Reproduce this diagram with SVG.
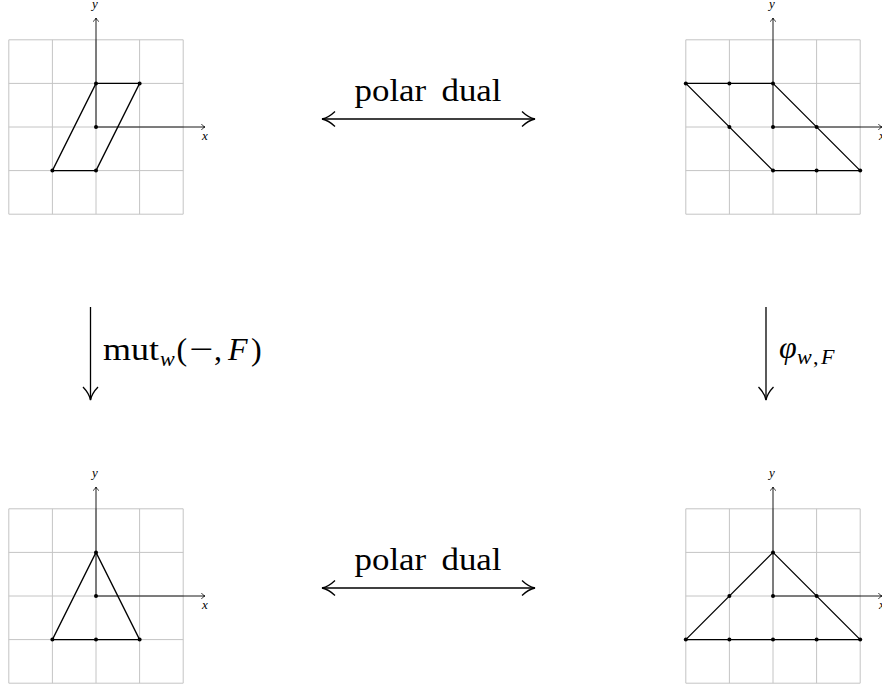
<svg xmlns="http://www.w3.org/2000/svg" width="882" height="689" viewBox="0 0 882 689">
<style>
.grid line{stroke:#c4c4c4;stroke-width:1}
.axis{stroke:#000;stroke-width:0.9;fill:none}
.poly{stroke:#000;stroke-width:1.3;fill:none;stroke-linejoin:round}
.dot{fill:#000}
.lbl{font-family:"Liberation Serif",serif;font-style:italic;font-size:13px;fill:#000}
.conn{stroke:#000;stroke-width:1.3;fill:none}
.txt{font-family:"Liberation Serif",serif;font-size:32px;fill:#000}
.it{font-style:italic}
</style>
<defs>
<marker id="ax" viewBox="-5 -4 6 8" refX="0" refY="0" markerWidth="6" markerHeight="8" markerUnits="userSpaceOnUse" orient="auto">
<path d="M-3.5,-2.8 C-2,-1 -0.8,-0.3 0,0 C-0.8,0.3 -2,1 -3.5,2.8" fill="none" stroke="#000" stroke-width="0.9"/>
</marker>
<marker id="to" viewBox="-15 -10 17 20" refX="0" refY="0" markerWidth="17" markerHeight="20" markerUnits="userSpaceOnUse" orient="auto-start-reverse">
<path d="M-13,-7.5 C-8,-2.7 -3.5,-0.7 0,0 C-3.5,0.7 -8,2.7 -13,7.5" fill="none" stroke="#000" stroke-width="1.3"/>
</marker>
<g id="grid" class="grid">
<line x1="-87.2" y1="-87.2" x2="-87.2" y2="87.2"/>
<line x1="-43.6" y1="-87.2" x2="-43.6" y2="87.2"/>
<line x1="0" y1="-87.2" x2="0" y2="87.2"/>
<line x1="43.6" y1="-87.2" x2="43.6" y2="87.2"/>
<line x1="87.2" y1="-87.2" x2="87.2" y2="87.2"/>
<line x1="-87.2" y1="-87.2" x2="87.2" y2="-87.2"/>
<line x1="-87.2" y1="-43.6" x2="87.2" y2="-43.6"/>
<line x1="-87.2" y1="0" x2="87.2" y2="0"/>
<line x1="-87.2" y1="43.6" x2="87.2" y2="43.6"/>
<line x1="-87.2" y1="87.2" x2="87.2" y2="87.2"/>
</g>
<g id="axes">
<path class="axis" d="M0,0 V-109" marker-end="url(#ax)"/>
<path class="axis" d="M0,0 H109" marker-end="url(#ax)"/>
<text class="lbl" x="-1" y="-119" text-anchor="middle">y</text>
<text class="lbl" x="109" y="13" text-anchor="middle">x</text>
</g>
</defs>

<g id="plot-top-left" transform="translate(96,127)">
<use href="#grid"/>
<use href="#axes"/>
<polygon class="poly" points="0,-43.6 43.6,-43.6 0,43.6 -43.6,43.6"/>
<circle class="dot" cx="0" cy="-43.6" r="2"/>
<circle class="dot" cx="43.6" cy="-43.6" r="2"/>
<circle class="dot" cx="0" cy="0" r="2"/>
<circle class="dot" cx="0" cy="43.6" r="2"/>
<circle class="dot" cx="-43.6" cy="43.6" r="2"/>
</g>

<g id="plot-top-right" transform="translate(773,127)">
<use href="#grid"/>
<use href="#axes"/>
<polygon class="poly" points="-87.2,-43.6 0,-43.6 87.2,43.6 0,43.6"/>
<circle class="dot" cx="-87.2" cy="-43.6" r="2"/>
<circle class="dot" cx="-43.6" cy="-43.6" r="2"/>
<circle class="dot" cx="0" cy="-43.6" r="2"/>
<circle class="dot" cx="-43.6" cy="0" r="2"/>
<circle class="dot" cx="0" cy="0" r="2"/>
<circle class="dot" cx="43.6" cy="0" r="2"/>
<circle class="dot" cx="0" cy="43.6" r="2"/>
<circle class="dot" cx="43.6" cy="43.6" r="2"/>
<circle class="dot" cx="87.2" cy="43.6" r="2"/>
</g>

<g id="plot-bottom-left" transform="translate(96,596)">
<use href="#grid"/>
<use href="#axes"/>
<polygon class="poly" points="0,-43.6 43.6,43.6 -43.6,43.6"/>
<circle class="dot" cx="0" cy="-43.6" r="2"/>
<circle class="dot" cx="0" cy="0" r="2"/>
<circle class="dot" cx="-43.6" cy="43.6" r="2"/>
<circle class="dot" cx="0" cy="43.6" r="2"/>
<circle class="dot" cx="43.6" cy="43.6" r="2"/>
</g>

<g id="plot-bottom-right" transform="translate(773,596)">
<use href="#grid"/>
<use href="#axes"/>
<polygon class="poly" points="0,-43.6 87.2,43.6 -87.2,43.6"/>
<circle class="dot" cx="0" cy="-43.6" r="2"/>
<circle class="dot" cx="-43.6" cy="0" r="2"/>
<circle class="dot" cx="0" cy="0" r="2"/>
<circle class="dot" cx="43.6" cy="0" r="2"/>
<circle class="dot" cx="-87.2" cy="43.6" r="2"/>
<circle class="dot" cx="-43.6" cy="43.6" r="2"/>
<circle class="dot" cx="0" cy="43.6" r="2"/>
<circle class="dot" cx="43.6" cy="43.6" r="2"/>
<circle class="dot" cx="87.2" cy="43.6" r="2"/>
</g>

<g id="connectors">
<path class="conn" d="M322,119 H535" marker-start="url(#to)" marker-end="url(#to)"/>
<path class="conn" d="M322,588 H535" marker-start="url(#to)" marker-end="url(#to)"/>
<path class="conn" d="M90.5,307 V400" marker-end="url(#to)"/>
<path class="conn" d="M766,307 V400" marker-end="url(#to)"/>
<text class="txt" x="428" y="101" text-anchor="middle" word-spacing="6" textLength="147" lengthAdjust="spacingAndGlyphs">polar dual</text>
<text class="txt" x="428" y="570" text-anchor="middle" word-spacing="6" textLength="147" lengthAdjust="spacingAndGlyphs">polar dual</text>
<text class="txt" y="360"><tspan x="103" textLength="56" lengthAdjust="spacingAndGlyphs">mut</tspan><tspan x="160" dy="6" class="it" font-size="22">w</tspan><tspan x="176.5" dy="-6">(</tspan><tspan x="189" textLength="24" lengthAdjust="spacingAndGlyphs">−</tspan><tspan x="214">,</tspan><tspan x="228" class="it">F</tspan><tspan x="251">)</tspan></text>
<text class="txt" y="358"><tspan x="779" class="it">φ</tspan><tspan x="797" dy="6" class="it" font-size="22">w</tspan><tspan x="813" font-size="22">,</tspan><tspan x="821" class="it" font-size="22">F</tspan></text>
</g>
</svg>
